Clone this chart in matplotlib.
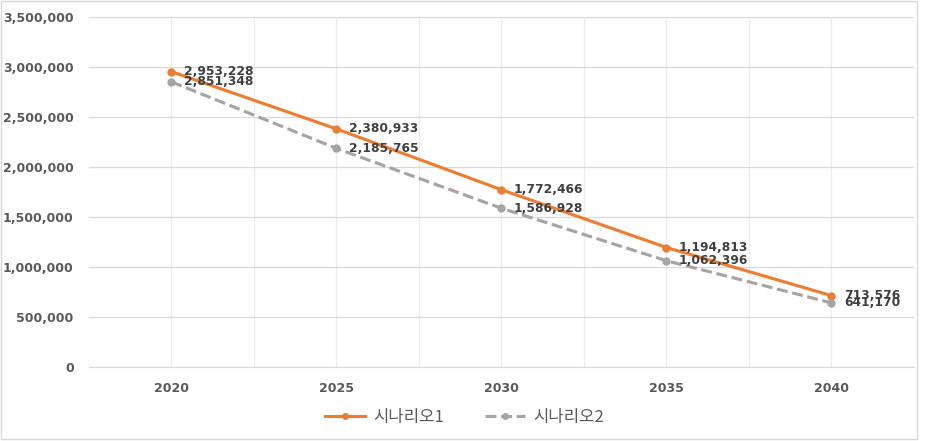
import matplotlib.pyplot as plt
from matplotlib.ticker import FuncFormatter, MultipleLocator
from matplotlib.patches import Rectangle

plt.rcParams['font.family'] = ['Noto Sans CJK KR', 'DejaVu Sans']

years = ['2020', '2025', '2030', '2035', '2040']
scenario1 = [2953228, 2380933, 1772466, 1194813, 713576]
scenario2 = [2851348, 2185765, 1586928, 1062396, 641170]
names = ['시나리오1', '시나리오2']

fig = plt.figure(figsize=(9.29, 4.41), dpi=100)
ax = fig.add_axes([0.0958, 0.1678, 0.888, 0.7937])

x = list(range(len(years)))
ax.plot(x, scenario1, color='#ED7D31', lw=2.25, marker='o', ms=5, label=names[0], zorder=3)
ax.plot(x, scenario2, color='#A5A5A5', lw=2.25, ls=(0, (3.5, 1.5)), marker='o', ms=5, label=names[1], zorder=3)

for series in (scenario1, scenario2):
    for xi, v in zip(x, series):
        ax.annotate(f'{v:,}', (xi, v), xytext=(9, 0), textcoords='offset points',
                    va='center', ha='left', fontsize=8.8, fontweight='bold', color='#404040',
                    family='DejaVu Sans')

ax.set_xlim(-0.5, len(years) - 0.5)
ax.set_ylim(0, 3500000)
ax.yaxis.set_major_locator(MultipleLocator(500000))
ax.yaxis.set_major_formatter(FuncFormatter(lambda v, p: f'{int(v):,}'))
ax.set_xticks(x)
ax.set_xticklabels(years)
ax.set_xticks([i + 0.5 for i in x[:-1]], minor=True)

ax.grid(axis='y', color='#D9D9D9', lw=0.9)
ax.grid(axis='x', which='both', color='#EBEBEB', lw=0.9)
ax.set_axisbelow(True)
for s in ['top', 'right', 'left']:
    ax.spines[s].set_visible(False)
ax.spines['bottom'].set_color('#D9D9D9')
ax.tick_params(axis='both', which='both', length=0, colors='#595959')
for lab in ax.get_xticklabels() + ax.get_yticklabels():
    lab.set_fontweight('bold')
    lab.set_fontsize(9)
    lab.set_family('DejaVu Sans')
ax.tick_params(axis='y', pad=11)
ax.tick_params(axis='x', pad=11)

fig.legend(loc='lower center', bbox_to_anchor=(0.5, 0.0), ncol=2, frameon=False,
           fontsize=12, handlelength=2.4, handletextpad=0.5, columnspacing=2.4,
           markerscale=0.8, labelcolor='#595959')

fig.patches.append(Rectangle((0.001, 0.004), 0.986, 0.994, transform=fig.transFigure,
                             fill=False, edgecolor='#D9D9D9', lw=1))

fig.savefig('out.png', dpi=100)
